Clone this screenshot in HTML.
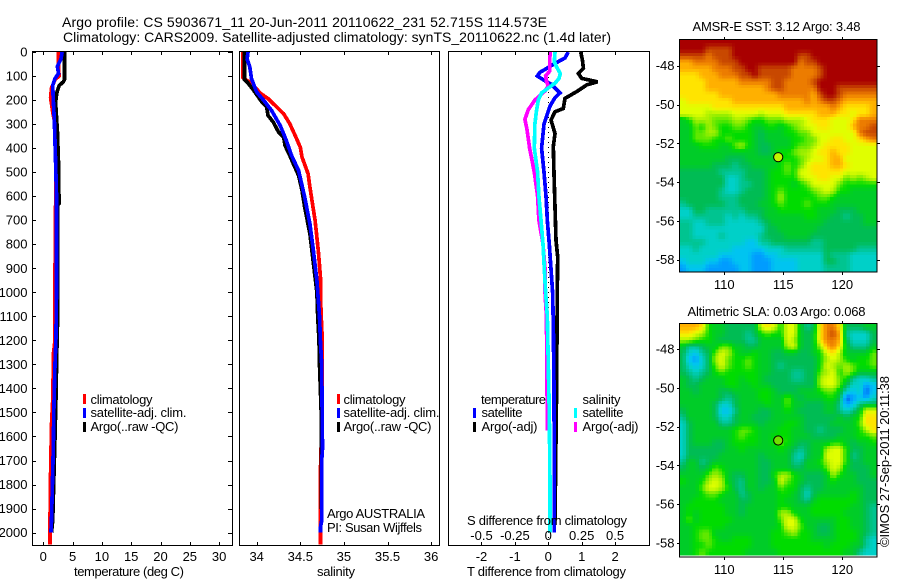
<!DOCTYPE html>
<html>
<head>
<meta charset="utf-8">
<title>Argo profile</title>
<style>
html,body{margin:0;padding:0;background:#fff;width:900px;height:580px;overflow:hidden}
svg{display:block}
text{font-family:"Liberation Sans",sans-serif;font-size:13px;fill:#000}
</style>
</head>
<body>
<svg id="chart" xmlns="http://www.w3.org/2000/svg" width="900" height="580" viewBox="0 0 900 580">
<rect x="0" y="0" width="900" height="580" fill="#fff"/>
<text x="62" y="27" font-size="14" style="font-size:14px" textLength="485">Argo profile: CS 5903671_11 20-Jun-2011 20110622_231 52.715S 114.573E</text>
<text x="63" y="42" style="font-size:14px" textLength="548">Climatology: CARS2009. Satellite-adjusted climatology: synTS_20110622.nc (1.4d later)</text>
<g id="panels"></g>
<g id="maps"></g>

<g>
<rect x="83" y="394" width="3" height="10" fill="#f00"/>
<rect x="83" y="408" width="3" height="10" fill="#00f"/>
<rect x="83" y="422" width="3" height="10" fill="#000"/>
<text x="90.5" y="404" textLength="62">climatology</text>
<text x="90.5" y="417" textLength="96">satellite-adj. clim.</text>
<text x="90.5" y="431" textLength="88">Argo(..raw -QC)</text>
</g>
<g>
<rect x="337" y="394" width="3" height="10" fill="#f00"/>
<rect x="337" y="408" width="3" height="10" fill="#00f"/>
<rect x="337" y="422" width="3" height="10" fill="#000"/>
<text x="343.5" y="404" textLength="62">climatology</text>
<text x="343.5" y="417" textLength="96">satellite-adj. clim.</text>
<text x="343.5" y="431" textLength="88">Argo(..raw -QC)</text>
</g>
<g>
<text x="481" y="404" textLength="65">temperature</text>
<rect x="473" y="408" width="3" height="10" fill="#00f"/>
<rect x="473" y="422" width="3" height="10" fill="#000"/>
<text x="481.5" y="417" textLength="41">satellite</text>
<text x="481.5" y="431" textLength="56">Argo(-adj)</text>
<text x="582.5" y="404" textLength="38">salinity</text>
<rect x="574" y="408" width="3" height="10" fill="#0ff"/>
<rect x="574" y="422" width="3" height="10" fill="#f0f"/>
<text x="582.5" y="417" textLength="41">satellite</text>
<text x="582.5" y="431" textLength="56">Argo(-adj)</text>
</g>

<text x="74" y="576" textLength="110">temperature (deg C)</text>
<text x="317" y="576" textLength="38">salinity</text>
<text x="467" y="576" textLength="159">T difference from climatology</text>
<text x="467" y="525" textLength="160">S difference from climatology</text>
<text x="327" y="518" textLength="98">Argo AUSTRALIA</text>
<text x="327" y="532" textLength="95">PI: Susan Wijffels</text>
<text x="692.5" y="31" textLength="168">AMSR-E SST: 3.12 Argo: 3.48</text>
<text x="687.5" y="316" textLength="178">Altimetric SLA: 0.03 Argo: 0.068</text>
<text transform="translate(889 547) rotate(-90)" textLength="171">©IMOS 27-Sep-2011 20:11:38</text>
</svg>

<script>
// ---- profile axes data ----
const depthTicks = [0,100,200,300,400,500,600,700,800,900,1000,1100,1200,1300,1400,1500,1600,1700,1800,1900,2000];
const tempTicks = [0,5,10,15,20,25,30];
const salTicks = [34,34.5,35,35.5,36];
const salTickLabels = ['34','34.5','35','35.5','36'];
const tDiffTicks = [-2,-1,0,1,2];
const sDiffTicks = [-0.5,-0.25,0,0.25,0.5];
const sDiffTickLabels = ['-0.5','-0.25','0','0.25','0.5'];
const lonTicks = [110,115,120];
const latTicks = [-48,-50,-52,-54,-56,-58];
const floatLon = 114.573;
const floatLat = -52.715;

// ---- temperature series ----
const tempClimDepth = [0,60,100,115,150,190,250,300,500,930,1200,1250,1450,1550,1750,1950,2050];
const tempClimValue = [2.6,2.6,2.7,2.0,1.4,1.25,1.6,2.0,2.15,2.0,2.0,1.75,1.6,1.4,1.25,1.15,1.15];
const tempArgoDepth = [0,115,125,140,170,210,330,500,570,630,640,1000,1060,1250,1450,1600,1780,1950,2000];
const tempArgoValue = [3.6,3.6,3.4,2.7,2.3,2.1,2.4,2.65,2.65,2.7,2.4,2.4,2.5,2.3,2.15,2.0,1.8,1.6,1.4];
const tempSatDepth = [0,30,60,90,110,140,200,290,460,600,1000,1200,1300,1400,1500,1650,1750,1950,2000];
const tempSatValue = [3.2,3.0,2.4,2.6,2.0,1.6,1.7,1.9,2.1,2.25,2.25,2.15,2.0,1.9,1.8,1.7,1.6,1.4,1.3];

// ---- salinity series ----
const salClimDepth = [0,105,115,130,171,194,215,257,299,347,396,437,507,562,632,701,771,840,937,1000,1100,1180,1500,1750,2050];
const salClimValue = [33.84,33.84,33.87,33.94,34.04,34.13,34.19,34.31,34.38,34.44,34.5,34.52,34.59,34.61,34.64,34.67,34.69,34.71,34.73,34.73,34.74,34.75,34.75,34.73,34.73];
const salArgoDepth = [0,115,125,157,208,229,264,292,333,354,389,431,465,514,576,646,757,1000,1100,1200,1300,1500,1700,1950];
const salArgoValue = [33.86,33.86,33.89,33.96,34.06,34.115,34.13,34.19,34.25,34.31,34.325,34.38,34.42,34.48,34.52,34.55,34.61,34.69,34.7,34.715,34.72,34.74,34.74,34.745];
const salSatDepth = [0,30,60,111,167,201,243,306,368,431,493,604,715,826,951,1100,1200,1300,1650,1700,1950,1980,2000];
const salSatValue = [33.9,33.89,33.92,33.94,34.0,34.08,34.17,34.27,34.34,34.4,34.48,34.55,34.61,34.65,34.69,34.72,34.73,34.745,34.755,34.745,34.745,34.73,34.73];

// ---- difference series ----
const dtArgoDepth = [0,33,68,89,110,124,137,165,193,235,249,283,339,394,505,644,783,853,985,1400,1600,1950];
const dtArgoValue = [0.97,1.02,1.05,0.9,1.0,1.47,1.15,0.85,0.5,0.45,0.2,0.08,0.2,0.15,0.17,0.2,0.23,0.28,0.27,0.25,0.23,0.2];
const dtSatDepth = [0,25,40,60,85,100,120,135,150,170,190,225,300,400,500,600,700,800,1000,1130,1400,1800,2000];
const dtSatValue = [0.6,0.5,0.3,0.05,-0.25,-0.33,-0.1,0.1,0.2,0.35,0.2,0.05,-0.13,-0.2,-0.13,-0.07,-0.03,0.03,0.13,0.15,0.17,0.18,0.18];
const dsArgoDepth = [0,80,100,125,140,160,180,200,240,280,320,400,500,600,700,800,900,1000,1090,1200,1400,1575];
const dsArgoValue = [0.0125,0.01,-0.02,-0.0125,0,-0.02,-0.06,-0.1,-0.15,-0.175,-0.16,-0.14,-0.105,-0.08,-0.07,-0.04,-0.025,-0.025,-0.015,-0.012,-0.01,-0.005];
const dsSatDepth = [0,40,60,90,110,130,150,170,200,250,300,400,500,600,700,800,900,1000,1100,1300,1500,1800,2000];
const dsSatValue = [0.05,0.045,0.06,0.09,0.08,0.05,0,-0.05,-0.075,-0.09,-0.1,-0.105,-0.08,-0.07,-0.055,-0.04,-0.03,-0.02,-0.0075,0,0.0075,0.0125,0.0125];

// ---- map data: colour level per cell (0 coldest/lowest .. 15 warmest/highest) ----
const sstGrid = [
[15,15,15,15,15,15,15,15,15,15,15,15,15,15,15,15,15,15,15,15,15,15,15,15,15,15,15,15,15,15],
[15,15,15,15,14,14,14,14,15,15,15,15,15,15,15,15,15,15,15,15,15,15,15,15,15,15,15,15,15,15],
[14,14,14,14,13,14,14,14,15,15,15,15,15,15,15,15,15,15,14,14,15,15,15,15,15,15,15,15,15,15],
[12,12,13,13,13,13,14,14,14,15,15,15,15,15,15,15,15,15,13,14,14,15,15,15,15,15,15,15,15,15],
[12,12,12,12,12,13,13,13,14,14,15,15,14,14,14,14,14,13,13,13,13,14,15,15,15,15,15,15,15,15],
[11,11,11,12,12,12,13,13,13,14,14,15,14,14,14,14,14,13,13,13,13,14,15,15,15,15,15,15,15,15],
[11,11,11,11,12,12,12,12,12,13,13,13,13,13,14,14,13,13,13,13,14,15,15,15,15,15,15,15,15,15],
[11,11,11,11,12,12,12,12,12,12,12,12,12,13,14,14,13,13,13,13,13,15,15,15,14,14,14,14,14,14],
[11,11,11,11,11,11,12,12,12,12,12,12,12,12,12,13,13,13,13,13,12,14,15,15,14,13,13,13,13,13],
[10,11,11,11,11,11,11,11,12,12,12,12,12,12,12,12,12,12,12,13,12,13,14,14,13,12,12,12,12,12],
[10,10,10,10,10,11,11,11,11,11,11,11,11,11,11,11,12,12,12,12,12,12,12,13,12,11,11,11,11,12],
[10,10,10,10,9,9,9,9,10,10,10,10,9,10,10,10,11,11,11,11,11,12,12,12,11,11,10,11,11,12],
[6,7,9,9,9,8,8,8,9,9,8,7,7,8,8,8,9,9,9,10,11,11,11,10,10,10,11,13,13,13],
[6,6,8,7,9,8,7,7,8,8,7,6,6,7,7,6,7,8,9,10,10,11,11,10,10,10,12,13,13,14],
[6,6,8,8,9,9,7,7,7,7,7,6,5,6,6,6,7,7,8,8,10,10,10,10,10,10,10,13,14,14],
[6,6,8,8,8,7,7,8,7,7,7,6,5,6,6,6,6,7,7,8,8,10,10,11,11,10,10,11,12,13],
[6,6,6,7,7,7,6,6,8,9,7,6,5,5,6,6,6,7,8,8,9,10,11,11,11,11,10,10,10,10],
[6,6,6,6,6,6,6,6,6,6,6,6,5,5,6,7,7,8,9,9,10,11,11,12,11,11,10,10,10,10],
[6,6,6,6,6,6,6,5,5,5,6,6,6,6,6,7,7,7,8,9,10,10,11,12,12,10,10,10,10,10],
[6,6,6,6,6,5,5,5,4,5,5,6,6,6,6,7,8,7,8,10,11,11,11,12,12,11,10,10,10,10],
[5,5,5,5,5,5,4,4,4,4,5,5,5,6,7,7,8,7,10,10,11,11,11,11,11,10,10,10,10,10],
[5,5,5,5,5,5,5,3,3,4,5,5,5,6,7,7,7,7,9,10,10,11,11,10,10,8,9,8,9,10],
[5,5,5,5,5,5,5,3,3,4,4,5,5,6,7,7,7,6,7,8,10,10,10,10,8,7,7,7,7,7],
[5,5,5,5,5,5,4,3,3,4,5,5,5,6,7,8,7,7,7,7,8,9,10,9,7,7,6,6,6,6],
[5,5,5,5,5,5,4,4,4,5,5,5,5,6,7,9,7,7,7,7,7,8,8,7,6,6,6,6,6,6],
[4,5,5,5,5,5,5,4,4,5,5,5,6,6,7,8,7,7,7,8,7,7,7,6,6,6,6,6,6,6],
[3,3,5,5,4,4,4,4,4,4,5,5,5,6,6,7,7,7,7,7,7,6,6,6,5,5,5,6,6,6],
[3,3,4,4,4,4,4,3,4,3,4,4,5,6,6,6,6,6,6,7,7,6,6,5,5,4,5,5,6,6],
[4,4,3,3,4,4,4,3,3,3,3,3,4,5,6,6,6,6,6,6,6,6,5,5,5,5,5,5,6,6],
[4,4,3,3,3,3,3,3,3,3,3,3,3,5,5,6,6,6,6,6,6,5,5,5,5,5,5,5,5,5],
[4,4,3,3,3,3,4,3,3,3,3,3,4,5,5,5,6,6,6,6,5,5,5,5,5,5,5,5,5,5],
[4,4,4,4,3,3,3,3,3,3,2,2,4,4,5,5,5,5,5,5,4,4,5,5,5,5,5,5,5,5],
[3,3,4,3,3,3,3,3,2,2,2,2,2,3,3,3,4,4,4,4,4,4,5,5,5,5,5,4,4,4],
[3,3,3,3,3,3,2,2,2,2,2,1,1,2,2,3,3,3,3,3,3,3,5,4,4,4,3,3,3,3],
[2,3,3,3,2,2,1,1,2,2,2,1,1,1,2,2,2,2,3,3,3,3,5,5,4,4,3,3,3,3],
[1,2,2,2,1,1,1,1,1,2,2,1,1,1,2,2,2,2,3,3,3,3,4,4,4,4,3,3,3,3]
];
const slaGrid = [
[12,12,12,11,7,6,6,5,5,5,5,5,10,11,10,7,10,10,6,4,5,11,13,13,11,5,5,5,6,6],
[11,11,10,9,7,6,6,5,5,5,4,5,7,8,7,7,10,10,6,5,6,11,13,14,12,4,3,3,3,5],
[9,9,8,7,7,6,5,5,5,5,4,4,6,6,6,6,10,9,6,5,6,11,13,13,12,5,3,3,3,5],
[6,4,4,5,6,6,8,8,6,6,5,5,6,6,6,6,9,10,6,5,6,9,12,13,11,6,4,4,4,6],
[5,3,2,4,5,8,10,9,7,6,6,7,6,6,5,5,6,6,5,5,6,7,10,11,9,6,6,6,6,8],
[5,2,1,3,5,9,10,8,7,7,8,7,6,6,5,5,5,5,5,5,5,7,9,10,9,7,6,7,7,8],
[5,3,2,3,5,8,10,8,7,7,8,7,6,6,5,4,5,5,5,5,5,7,10,9,8,9,8,7,7,8],
[5,4,3,4,5,7,8,7,7,7,7,7,6,6,5,5,5,4,4,5,5,8,9,10,7,9,8,6,6,6],
[6,5,4,5,6,6,6,7,7,6,7,7,6,5,5,5,5,4,4,5,5,9,10,10,8,7,4,3,3,4],
[6,5,5,6,6,6,6,7,7,6,6,7,6,6,5,5,5,5,5,5,5,9,10,10,8,5,3,3,1,2],
[6,6,5,6,6,6,5,5,6,6,6,6,7,7,6,5,5,5,6,6,6,7,8,8,6,3,2,3,0,2],
[6,6,6,6,6,6,5,4,5,6,6,6,7,7,6,6,8,6,5,6,6,6,7,7,5,0,1,2,1,3],
[6,6,6,6,6,5,3,3,5,6,6,6,6,7,6,6,8,6,6,5,5,5,6,6,4,1,2,4,5,5],
[5,6,6,6,6,5,2,2,4,6,6,6,5,5,6,6,7,6,5,5,5,5,6,6,4,3,4,6,10,10],
[4,6,6,6,6,5,3,3,5,6,6,5,5,5,6,6,6,6,6,5,5,5,5,5,6,5,6,7,11,11],
[3,5,6,6,6,6,4,4,5,6,6,6,5,6,6,6,7,7,6,5,5,5,5,6,6,6,6,8,11,11],
[3,5,6,6,6,6,6,6,7,8,8,7,6,6,6,7,7,6,6,5,5,4,5,5,5,6,6,7,9,11],
[3,5,6,6,6,6,6,6,7,8,7,7,6,6,7,7,7,6,6,6,5,5,5,5,6,6,6,7,7,8],
[3,5,6,6,6,5,5,6,7,7,7,7,6,6,7,8,7,6,5,5,6,6,6,7,7,6,5,6,6,7],
[3,5,5,5,5,5,5,6,6,7,6,6,6,6,6,7,6,5,4,5,6,6,9,10,10,7,5,5,6,6],
[3,5,5,5,5,5,6,6,6,6,6,6,5,6,6,6,6,4,3,5,6,6,10,10,10,7,4,5,6,6],
[4,6,6,4,5,6,6,6,6,6,6,6,5,5,6,6,6,4,4,6,6,7,9,10,10,7,5,5,6,6],
[5,6,6,5,6,8,7,6,6,6,6,6,5,5,6,6,6,5,5,6,6,6,8,10,9,6,5,5,5,6],
[6,6,6,6,8,9,8,6,5,5,6,6,5,5,7,9,9,7,6,5,5,5,6,9,7,6,6,5,5,6],
[7,6,6,7,9,10,9,6,5,4,6,6,5,5,6,10,8,7,6,5,5,5,6,7,6,6,6,5,5,5],
[6,6,6,8,10,10,9,7,5,4,6,6,5,6,6,8,7,7,5,4,5,5,6,6,6,6,6,6,5,5],
[6,6,6,7,8,8,7,6,6,4,5,6,6,6,6,7,7,6,5,3,5,6,6,6,6,6,7,6,5,5],
[6,6,7,7,7,7,6,6,6,5,5,6,6,6,6,7,6,6,5,4,6,7,7,7,7,7,7,6,5,5],
[6,7,7,7,7,7,7,6,6,5,6,6,6,6,6,7,7,6,6,6,7,7,7,7,7,7,6,6,5,4],
[6,7,6,7,7,7,7,6,6,5,6,6,6,6,6,9,9,7,6,6,7,7,7,7,7,6,6,6,5,4],
[6,8,6,7,7,7,7,7,6,6,6,6,6,6,6,8,10,10,7,6,6,6,6,6,7,7,6,6,5,4],
[6,6,7,7,7,7,7,6,6,6,6,6,6,6,6,7,10,10,8,6,6,5,5,6,7,7,6,6,5,4],
[6,6,7,8,8,6,6,6,6,6,6,6,6,6,7,7,8,9,7,7,6,5,5,6,7,7,7,6,5,4],
[6,6,7,8,8,7,6,6,7,7,7,6,6,6,7,7,7,7,7,7,6,6,6,6,7,7,7,6,4,3],
[6,6,7,7,8,7,7,7,7,7,7,6,6,6,7,7,7,7,7,7,7,7,6,7,7,7,6,6,4,3],
[6,6,7,8,7,7,7,7,7,7,6,6,6,6,6,7,7,7,7,7,7,7,7,7,7,6,6,4,3,3]
];
const mapPalette = ['#0058e8','#009cff','#00c4f0','#00d0c8','#00c490','#00bc54','#00cc28','#00dc00','#60e800','#a8f000','#e0ff00','#ffe400','#ffb000','#ec7c00','#c84800','#a80000'];

// ---- helpers and scales ----
const NS = 'http://www.w3.org/2000/svg';
const depthTop = 52, depthPxPerM = 0.2403;
const panelBottom = 545;
const lineWidth = 3.7;
const mapSubdivide = 2;
function yDepth(d){ return depthTop + d * depthPxPerM; }
function xTemp(t){ return 43.3 + t * 5.86; }
function xSal(s){ return 256.7 + (s - 34) * 87.2; }
function xTDiff(t){ return 548.3 + t * 33.4; }
function xSDiff(s){ return 548.3 + s * 133.6; }
function mk(parent, tag, attrs, text){
  const el = document.createElementNS(NS, tag);
  for (const k in attrs) el.setAttribute(k, attrs[k]);
  if (text !== undefined) el.textContent = text;
  parent.appendChild(el);
  return el;
}
function seriesPoints(depths, values, xFn){
  return depths.map((d, i) => xFn(values[i]).toFixed(1) + ',' + yDepth(d).toFixed(1)).join(' ');
}
function hexRgb(h){ return [parseInt(h.slice(1,3),16), parseInt(h.slice(3,5),16), parseInt(h.slice(5,7),16)]; }
function levelColor(level){
  const l = Math.max(0, Math.min(mapPalette.length - 1, level));
  const i = Math.min(mapPalette.length - 2, Math.floor(l));
  const f = l - i;
  const a = hexRgb(mapPalette[i]), b = hexRgb(mapPalette[i + 1]);
  return 'rgb(' + a.map((v, k) => Math.round(v + (b[k] - v) * f)).join(',') + ')';
}
function sampleGrid(grid, r, c){
  const rows = grid.length, cols = grid[0].length;
  const rr = Math.max(0, Math.min(rows - 1, r)), cc = Math.max(0, Math.min(cols - 1, c));
  const r0 = Math.floor(rr), c0 = Math.floor(cc);
  const r1 = Math.min(rows - 1, r0 + 1), c1 = Math.min(cols - 1, c0 + 1);
  const fr = rr - r0, fc = cc - c0;
  return (grid[r0][c0] * (1 - fc) + grid[r0][c1] * fc) * (1 - fr) + (grid[r1][c0] * (1 - fc) + grid[r1][c1] * fc) * fr;
}
const panelsRoot = document.getElementById('panels');

function drawFrame(parent, left, right){
  const r = mk(parent, 'rect', {x:left + 0.5, y:51.5, width:right - left, height:panelBottom - 51, fill:'none', stroke:'#000', 'stroke-width':1, 'shape-rendering':'crispEdges'});
  
  
}
function drawXTicks(parent, values, xFn){
  values.forEach(v => {
    const x = Math.round(xFn(v)) + 0.5;
    const a = mk(parent, 'line', {x1:x, x2:x, y1:52, y2:55, stroke:'#000', 'shape-rendering':'crispEdges'});
    
    
    const b = mk(parent, 'line', {x1:x, x2:x, y1:542, y2:545, stroke:'#000', 'shape-rendering':'crispEdges'});
    
    
  });
}
function drawXLabels(parent, values, labels, xFn, baseline){
  values.forEach((v, i) => {
    const t = mk(parent, 'text', {x:xFn(v), y:baseline, 'text-anchor':'middle'}, labels[i]);
    
    
  });
}
function drawSeries(parent, name, color, depths, values, xFn){
  const p = mk(parent, 'polyline', {points:seriesPoints(depths, values, xFn), fill:'none', stroke:color, 'stroke-width':lineWidth, 'shape-rendering':'crispEdges', 'stroke-linejoin':'miter'});
  
  
}

// ---- temperature panel ----
const tempPanel = mk(panelsRoot, 'g', {});


drawSeries(tempPanel, 'temperature-climatology-line', '#f00', tempClimDepth, tempClimValue, xTemp);
drawSeries(tempPanel, 'temperature-argo-line', '#000', tempArgoDepth, tempArgoValue, xTemp);
drawSeries(tempPanel, 'temperature-satellite-line', '#00f', tempSatDepth, tempSatValue, xTemp);
drawFrame(tempPanel, 32, 232);
drawXTicks(tempPanel, tempTicks, xTemp);
drawXLabels(tempPanel, tempTicks, tempTicks.map(String), xTemp, 561);
depthTicks.forEach(d => {
  const y = Math.round(yDepth(d)) + 0.5;
  const a = mk(tempPanel, 'line', {x1:32, x2:36, y1:y, y2:y, stroke:'#000', 'shape-rendering':'crispEdges'});
  
  
  const b = mk(tempPanel, 'line', {x1:228, x2:232, y1:y, y2:y, stroke:'#000', 'shape-rendering':'crispEdges'});
  
  
  const t = mk(tempPanel, 'text', {x:27.5, y:yDepth(d) + 4.5, 'text-anchor':'end'}, String(d));
  
  
});

// ---- salinity panel ----
const salPanel = mk(panelsRoot, 'g', {});


drawSeries(salPanel, 'salinity-climatology-line', '#f00', salClimDepth, salClimValue, xSal);
drawSeries(salPanel, 'salinity-argo-line', '#000', salArgoDepth, salArgoValue, xSal);
drawSeries(salPanel, 'salinity-satellite-line', '#00f', salSatDepth, salSatValue, xSal);
drawFrame(salPanel, 239, 439);
drawXTicks(salPanel, salTicks, xSal);
drawXLabels(salPanel, salTicks, salTickLabels, xSal, 561);

// ---- difference panel ----
const diffPanel = mk(panelsRoot, 'g', {});


const zeroLine = mk(diffPanel, 'line', {x1:xTDiff(0), x2:xTDiff(0), y1:yDepth(0), y2:yDepth(2050), stroke:'#000', 'stroke-width':1, 'stroke-dasharray':'1 4', 'shape-rendering':'crispEdges'});


drawSeries(diffPanel, 't-difference-argo-line', '#000', dtArgoDepth, dtArgoValue, xTDiff);
drawSeries(diffPanel, 't-difference-satellite-line', '#00f', dtSatDepth, dtSatValue, xTDiff);
drawSeries(diffPanel, 's-difference-argo-line', '#f0f', dsArgoDepth, dsArgoValue, xSDiff);
drawSeries(diffPanel, 's-difference-satellite-line', '#0ff', dsSatDepth, dsSatValue, xSDiff);
drawFrame(diffPanel, 448, 649);
drawXTicks(diffPanel, tDiffTicks, xTDiff);
drawXLabels(diffPanel, tDiffTicks, tDiffTicks.map(String), xTDiff, 561);
drawXLabels(diffPanel, sDiffTicks, sDiffTickLabels, xSDiff, 540);

// ---- maps ----
const mapsRoot = document.getElementById('maps');
function drawMap(opts){
  const g = mk(mapsRoot, 'g', {});
  
  
  const xLon = lon => 679.3 + (lon - 106.19) * 11.8;
  const yLat = lat => opts.y48 + (-48 - lat) * 19.4;
  const grid = opts.grid;
  const rows = grid.length * mapSubdivide;
  const cols = grid[0].length * mapSubdivide;
  const dy = (opts.imgBottom - opts.top) / rows;
  const dx = (876 - 679.3) / cols;
  for (let r = 0; r < rows; r++) {
    for (let c = 0; c < cols; c++) {
      const level = sampleGrid(grid, (r + 0.5) / mapSubdivide - 0.5, (c + 0.5) / mapSubdivide - 0.5);
      const cell = mk(g, 'rect', {x:(679.3 + c * dx).toFixed(2), y:(opts.top + r * dy).toFixed(2), width:(dx + 0.4).toFixed(2), height:(dy + 0.4).toFixed(2), fill:levelColor(level), 'shape-rendering':'crispEdges'});
      
      
    }
  }
  const box = mk(g, 'rect', {x:679.5, y:opts.top - 0.5, width:197.5, height:opts.bottom - opts.top + 0.5, fill:'none', stroke:'#000', 'shape-rendering':'crispEdges'});
  
  
  lonTicks.forEach(lon => {
    const x = Math.round(xLon(lon)) + 0.5;
    const a = mk(g, 'line', {x1:x, x2:x, y1:opts.top - 3, y2:opts.top, stroke:'#000', 'shape-rendering':'crispEdges'});
    
    
    const b = mk(g, 'line', {x1:x, x2:x, y1:opts.bottom, y2:opts.bottom + 3, stroke:'#000', 'shape-rendering':'crispEdges'});
    
    
    const t = mk(g, 'text', {x:xLon(lon), y:opts.bottom + 17, 'text-anchor':'middle'}, String(lon));
    
    
  });
  latTicks.forEach(lat => {
    const y = Math.round(yLat(lat)) + 0.5;
    const a = mk(g, 'line', {x1:677, x2:680, y1:y, y2:y, stroke:'#000', 'shape-rendering':'crispEdges'});
    
    
    const b = mk(g, 'line', {x1:877, x2:880, y1:y, y2:y, stroke:'#000', 'shape-rendering':'crispEdges'});
    
    
    const t = mk(g, 'text', {x:674.5, y:yLat(lat) + 4.5, 'text-anchor':'end'}, String(lat));
    
    
  });
  const m = mk(g, 'circle', {cx:xLon(floatLon), cy:yLat(floatLat), r:4.6, fill:opts.markerFill, stroke:'#000', 'stroke-width':1});
  
  
}
drawMap({name:'sst-map', grid:sstGrid, top:40, imgBottom:271, bottom:272, y48:65.7, markerFill:'#c4f400'});
drawMap({name:'sla-map', grid:slaGrid, top:324, imgBottom:555, bottom:557, y48:349, markerFill:'#70e000'});
</script>
</body>
</html>
